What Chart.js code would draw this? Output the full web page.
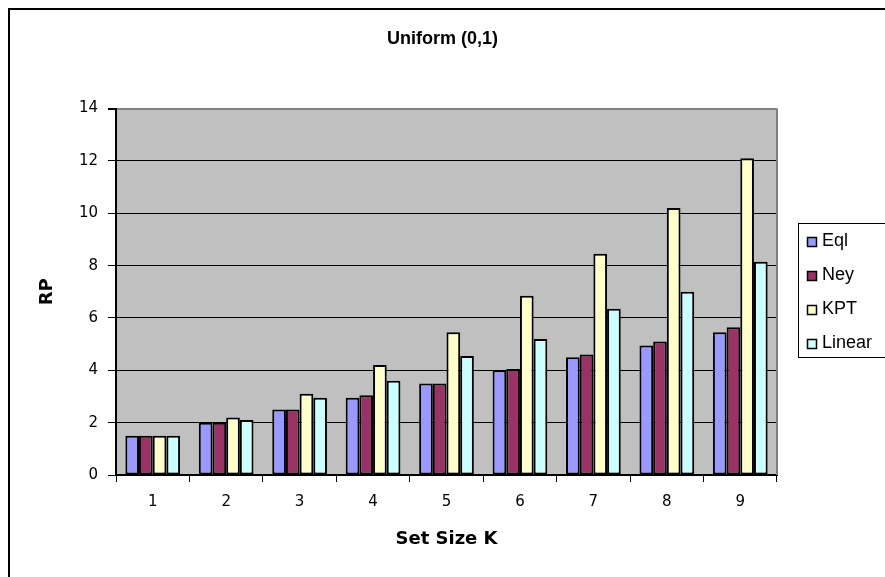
<!DOCTYPE html>
<html lang="en">

<head>
    <meta charset="UTF-8">
    <title>Uniform (0,1)</title>
    <script src="https://cdn.jsdelivr.net/npm/chart.js"></script>
    <style>
        body { margin: 0; background: #fff; }
    </style>
</head>

<body>
    <canvas id="rpChart" width="885" height="577"></canvas>

    <script>
        // set sizes on the x axis
        var categories = ['1', '2', '3', '4', '5', '6', '7', '8', '9'];
        // RP per method
        var seriesNames = ['Eql', 'Ney', 'KPT', 'Linear'];
        var eql = [1.5, 2.0, 2.5, 2.95, 3.5, 4.0, 4.5, 4.95, 5.45];
        var ney = [1.5, 2.0, 2.5, 3.05, 3.5, 4.05, 4.6, 5.1, 5.65];
        var kpt = [1.5, 2.2, 3.1, 4.2, 5.45, 6.85, 8.45, 10.2, 12.1];
        var linear = [1.5, 2.1, 2.95, 3.6, 4.55, 5.2, 6.35, 7.0, 8.15];
        var yTicks = [0, 2, 4, 6, 8, 10, 12, 14];

        var colors = ['#9999FF', '#993366', '#FFFFCC', '#CCFFFF'];
        var FONT = "'DejaVu Sans', sans-serif";
        var ARIAL = "'Liberation Sans', Arial, sans-serif";

        var datasets = [eql, ney, kpt, linear].map(function (vals, i) {
            return {
                label: seriesNames[i],
                data: vals,
                backgroundColor: colors[i],
                borderColor: '#000',
                borderWidth: 2,
                borderSkipped: false,
                categoryPercentage: 0.745,
                barPercentage: 1
            };
        });

        // grey plot area, outer frame and the boxed legend on the right
        var excelLook = {
            id: 'excelLook',
            beforeDraw: function (chart) {
                var c = chart.ctx, a = chart.chartArea;
                c.save();
                c.fillStyle = '#C0C0C0';
                c.fillRect(a.left, a.top, a.right - a.left, a.bottom - a.top);
                c.restore();
            },
            beforeDatasetsDraw: function (chart) {
                var c = chart.ctx, a = chart.chartArea;
                c.save();
                c.strokeStyle = '#808080';
                c.lineWidth = 2;
                c.beginPath();
                c.moveTo(a.right, a.top);
                c.lineTo(a.right, a.bottom);
                c.stroke();
                c.restore();
            },
            afterDraw: function (chart) {
                var c = chart.ctx, a = chart.chartArea;
                c.save();
                // frame round the whole chart
                c.strokeStyle = '#000';
                c.lineWidth = 2;
                c.strokeRect(9, 9, 920, 620);

                // legend box
                var lx = a.right + 21, ly = 223, lh = 134;
                c.lineWidth = 1;
                c.strokeRect(lx + 0.5, ly + 0.5, 200, lh);
                c.font = '18px ' + ARIAL;
                c.textBaseline = 'middle';
                chart.data.datasets.forEach(function (ds, i) {
                    var cy = ly + 18 + i * 34;
                    c.fillStyle = ds.backgroundColor;
                    c.fillRect(lx + 9, cy - 4, 9, 9);
                    c.strokeStyle = '#000';
                    c.lineWidth = 1.5;
                    c.strokeRect(lx + 9.5, cy - 3.5, 9, 9);
                    c.fillStyle = '#000';
                    c.fillText(ds.label, lx + 24, cy);
                });
                c.restore();
            }
        };

        var ctx = document.getElementById('rpChart').getContext('2d');

        var rpChart = new Chart(ctx, {
            type: 'bar',
            data: {
                labels: categories,
                datasets: datasets
            },
            options: {
                responsive: false,
                animation: false,
                layout: {
                    padding: 0
                },
                plugins: {
                    legend: { display: false },
                    tooltip: { enabled: false },
                    title: {
                        display: true,
                        text: 'Uniform (0,1)',
                        color: '#000',
                        font: { family: ARIAL, size: 18, weight: 'bold', lineHeight: 1.2 },
                        padding: { top: 28, bottom: 59 }
                    }
                },
                scales: {
                    x: {
                        afterFit: function (scale) { scale.height = 102; },
                        grid: {
                            offset: true,
                            drawOnChartArea: false,
                            tickLength: 7,
                            color: '#000'
                        },
                        border: { display: true, color: '#000', width: 2 },
                        ticks: {
                            color: '#000',
                            padding: 11,
                            font: { family: FONT, size: 15 }
                        },
                        title: {
                            display: true,
                            text: 'Set Size K',
                            color: '#000',
                            font: { family: FONT, size: 18, weight: 'bold', lineHeight: 1.2 },
                            padding: { top: 0, bottom: 27 }
                        }
                    },
                    y: {
                        min: 0,
                        max: 14,
                        afterFit: function (scale) { scale.width = 116; },
                        afterBuildTicks: function (scale) {
                            scale.ticks = yTicks.map(function (v) { return { value: v }; });
                        },
                        grid: {
                            tickLength: 8,
                            color: function (c) { return c.tick && c.tick.value === 14 ? '#808080' : '#000'; },
                            lineWidth: function (c) { return c.tick && c.tick.value === 14 ? 2 : 1; },
                            tickColor: '#000'
                        },
                        border: { display: true, color: '#000', width: 2 },
                        ticks: {
                            color: '#000',
                            padding: 10,
                            font: { family: FONT, size: 15 }
                        },
                        title: {
                            display: true,
                            text: 'RP',
                            color: '#000',
                            font: { family: FONT, size: 18, weight: 'bold', lineHeight: 1.2 },
                            padding: { top: 37, bottom: 0 }
                        }
                    },
                    // empty axis that only reserves room for the legend box
                    legendSpace: {
                        type: 'linear',
                        position: 'right',
                        afterFit: function (scale) { scale.width = 108; },
                        grid: { display: false },
                        border: { display: false },
                        ticks: { display: false }
                    }
                }
            },
            plugins: [excelLook]
        });
    </script>
</body>

</html>
